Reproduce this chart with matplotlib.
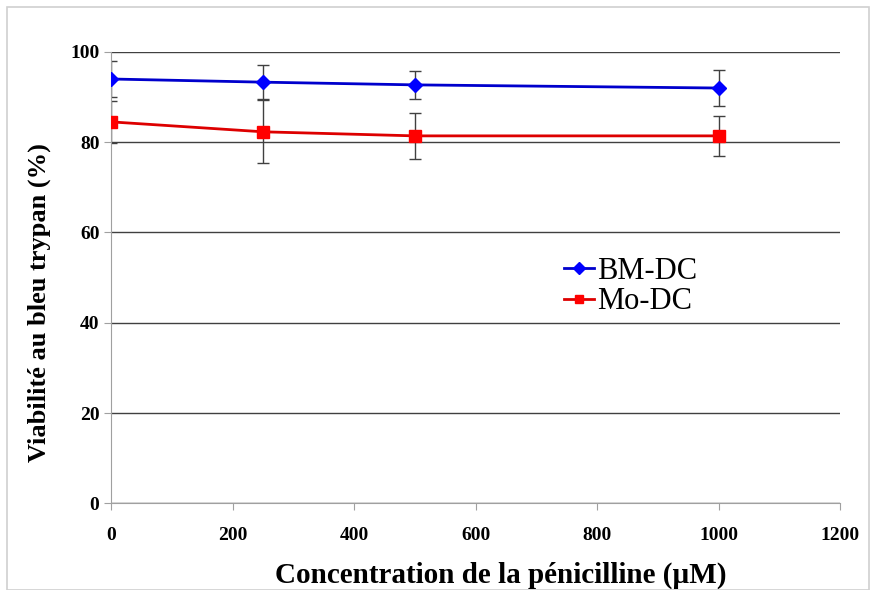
import numpy as np
import matplotlib.pyplot as plt
from matplotlib.patches import Rectangle

conc = [0, 250, 500, 1000]
bm_dc = [94.0, 93.3, 92.7, 92.0]
bm_err = [4.0, 3.7, 3.1, 4.0]
mo_dc = [84.5, 82.3, 81.4, 81.4]
mo_err = [4.7, 7.0, 5.1, 4.4]

plt.rcParams['font.family'] = ['Liberation Serif', 'DejaVu Serif']
plt.rcParams['font.weight'] = 'bold'

fig = plt.figure(figsize=(8.76, 5.90), dpi=100)
fig.patches.append(Rectangle((0.008, 0.0), 0.984, 0.988, transform=fig.transFigure,
                             fill=False, edgecolor='#d0d0d0', linewidth=1.2))
ax = fig.add_axes([0.127, 0.147, 0.832, 0.765])

# barres d'erreur
ax.errorbar(conc, bm_dc, yerr=bm_err, fmt='none', ecolor='#404040', elinewidth=1,
            capsize=4, zorder=2)
ax.errorbar(conc, mo_dc, yerr=mo_err, fmt='none', ecolor='#404040', elinewidth=1,
            capsize=4, zorder=2)
ax.plot(conc, bm_dc, color='#0000cc', lw=2, marker='D', markersize=7,
        markerfacecolor='#0000ff', markeredgecolor='#0000ff', label='BM-DC', zorder=3)
ax.plot(conc, mo_dc, color='#dd0000', lw=2, marker='s', markersize=9,
        markerfacecolor='#ff0000', markeredgecolor='#ff0000', label='Mo-DC', zorder=3)

ax.set_xlim(0, 1200)
ax.set_ylim(0, 100)
ax.set_xticks(np.arange(0, 1201, 200))
ax.set_yticks(np.arange(0, 101, 20))
ax.grid(axis='y', color='#404040', lw=1)
ax.set_axisbelow(True)
for s in ['top', 'right']:
    ax.spines[s].set_visible(False)
ax.spines['left'].set_color('#a0a0a0')
ax.spines['bottom'].set_color('#a0a0a0')
ax.tick_params(axis='both', colors='#a0a0a0', labelcolor='black', labelsize=14,
               length=5, direction='out')
ax.tick_params(axis='x', pad=12)

ax.set_xlabel('Concentration de la pénicilline (µM)', fontsize=21, fontweight='bold')
ax.xaxis.set_label_coords(0.534, -0.13)
ax.set_ylabel('Viabilité au bleu trypan (%)', fontsize=19, fontweight='bold')
ax.yaxis.set_label_coords(-0.082, 0.445)

leg = ax.legend(loc='upper left', bbox_to_anchor=(0.6, 0.58), frameon=False,
                prop={'size': 22, 'weight': 'normal'}, handlelength=1.0,
                handletextpad=0.1, labelspacing=0.05, borderpad=0)
for h in leg.legend_handles:
    h.set_markersize(6)

plt.savefig('out.png', dpi=100)
